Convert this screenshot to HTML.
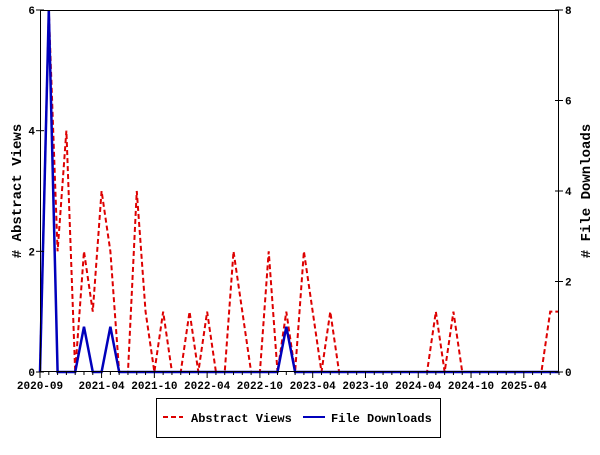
<!DOCTYPE html>
<html><head><meta charset="utf-8"><style>
body{margin:0;background:#fff;}
svg text{font-family:"Liberation Mono",monospace;font-weight:bold;}
</style></head><body>
<svg width="600" height="450" viewBox="0 0 600 450" xmlns="http://www.w3.org/2000/svg">
<rect width="600" height="450" fill="#fff"/>
<g id="grid"></g>
<g id="marks"></g>
<g id="axes"></g>
<g>
<rect x="156.5" y="398.5" width="284" height="39" fill="#fff" stroke="#000"/>
<line x1="163" y1="417" x2="183" y2="417" stroke="#dd0000" stroke-width="2" stroke-dasharray="5,3"/>
<text x="191" y="422" font-size="12">Abstract Views</text>
<line x1="303" y1="417" x2="325" y2="417" stroke="#0000bb" stroke-width="2"/>
<text x="331" y="422" font-size="12">File Downloads</text>
</g>
<text transform="translate(21,191) rotate(-90)" text-anchor="middle" font-size="14"># Abstract Views</text>
<text transform="translate(590,191) rotate(-90)" text-anchor="middle" font-size="14"># File Downloads</text>
</svg>
<script>
const views=[0,6,2,4,0,2,1,3,2,0,0,3,1,0,1,0,0,1,0,1,0,0,2,1,0,0,2,0,1,0,2,1,0,1,0,0,0,0,0,0,0,0,0,0,0,1,0,1,0,0,0,0,0,0,0,0,0,0,1,1];
const downloads=[0,8,0,0,0,1,0,0,1,0,0,0,0,0,0,0,0,0,0,0,0,0,0,0,0,0,0,0,1,0,0,0,0,0,0,0,0,0,0,0,0,0,0,0,0,0,0,0,0,0,0,0,0,0,0,0,0,0,0,0];
const xLabels=["2020-09","2021-04","2021-10","2022-04","2022-10","2023-04","2023-10","2024-04","2024-10","2025-04"];
const xLabelIdx=[0,7,13,19,25,31,37,43,49,55];
const leftTicks=[0,2,4,6];
const rightTicks=[0,2,4,6,8];
const X0=40,X1=559,Y0=372,Y1=10,N=59;
const x=i=>X0+(X1-X0)*i/N;
const yL=v=>Y0-(Y0-Y1)*v/6;
const yR=v=>Y0-(Y0-Y1)*v/8;
const NS="http://www.w3.org/2000/svg";
function mk(t,a,p){const e=document.createElementNS(NS,t);for(const k in a)e.setAttribute(k,a[k]);p.appendChild(e);return e;}
const marks=document.getElementById('marks'),axes=document.getElementById('axes');
const lv=mk('polyline',{points:views.map((v,i)=>x(i)+','+yL(v)).join(' '),fill:'none',stroke:'#dd0000','stroke-width':2,'stroke-dasharray':'5,3'},marks);


const ld=mk('polyline',{points:downloads.map((v,i)=>x(i)+','+yR(v)).join(' '),fill:'none',stroke:'#0000bb','stroke-width':2.5},marks);


const fr=mk('rect',{x:X0+0.5,y:Y1+0.5,width:X1-X0-1,height:Y0-Y1-1,fill:'none',stroke:'#000'},axes);


for(let i=0;i<=N;i++){const t=mk('line',{x1:x(i),x2:x(i),y1:Y0,y2:Y0+(xLabelIdx.includes(i)?6:3),stroke:'#000'},axes);

}
xLabels.forEach((l,k)=>{const t=mk('text',{x:x(xLabelIdx[k]),y:Y0+17,'text-anchor':'middle','font-size':'11'},axes);t.textContent=l;

});
leftTicks.forEach(v=>{mk('line',{x1:X0-4,x2:X0+4,y1:yL(v),y2:yL(v),stroke:'#000'},axes);
const t=mk('text',{x:X0-5,y:yL(v)+4,'text-anchor':'end','font-size':'11'},axes);t.textContent=v;

});
rightTicks.forEach(v=>{mk('line',{x1:X1-4,x2:X1+4,y1:yR(v),y2:yR(v),stroke:'#000'},axes);
const t=mk('text',{x:X1+6,y:yR(v)+4,'text-anchor':'start','font-size':'11'},axes);t.textContent=v;

});
</script>
</body></html>
